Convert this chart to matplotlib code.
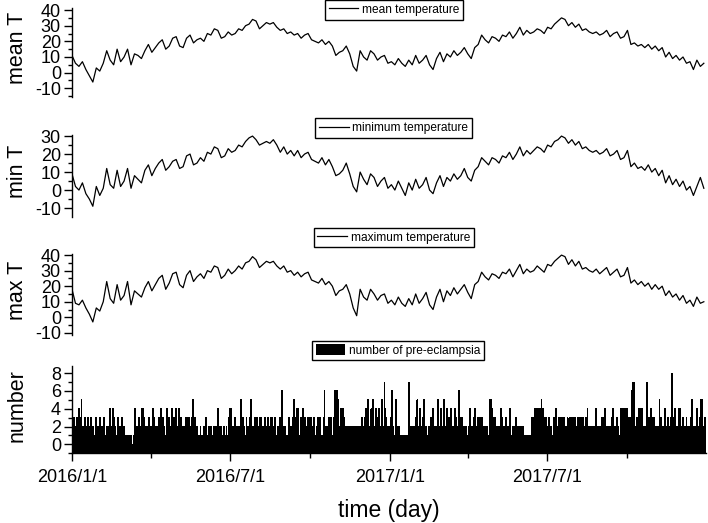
import numpy as np
import matplotlib
matplotlib.use("Agg")
import matplotlib.pyplot as plt
import matplotlib.dates as mdates
from matplotlib.ticker import MultipleLocator, FuncFormatter

plt.rcParams['font.family'] = ['Liberation Sans', 'DejaVu Sans']
plt.rcParams['axes.unicode_minus'] = False

# temperatures read every 4 days from 2016/1/1
step_days = 4
mean_t = [11, 6, 4, 7, 2, -2, -6, 3, 1, 6, 14, 8, 5, 15, 7, 10, 15, 5, 12, 11,
          9, 14, 18, 13, 16, 19, 21, 15, 17, 22, 23, 17, 16, 22, 24, 19, 21, 22, 20, 25,
          24, 28, 27, 22, 23, 26, 24, 25, 28, 27, 30, 31, 34, 33, 28, 30, 32, 31, 32, 29,
          27, 28, 25, 26, 24, 25, 22, 24, 25, 21, 20, 19, 21, 18, 20, 17, 11, 13, 14, 17,
          12, 4, 1, 14, 10, 8, 14, 12, 8, 10, 11, 6, 7, 5, 9, 6, 4, 8, 5, 11,
          6, 8, 11, 5, 2, 9, 13, 7, 12, 10, 14, 11, 13, 16, 12, 9, 16, 18, 24, 21,
          19, 23, 22, 20, 24, 23, 26, 22, 25, 29, 24, 27, 25, 26, 28, 27, 25, 29, 28, 31,
          33, 35, 34, 30, 32, 29, 31, 27, 28, 26, 25, 26, 24, 25, 27, 23, 25, 26, 22, 23,
          27, 18, 19, 17, 18, 16, 18, 15, 17, 14, 16, 10, 13, 9, 11, 8, 10, 6, 7, 2,
          8, 4, 6]
min_t = [9, 2, 0, 4, -2, -5, -9, 2, -3, 1, 12, 3, 1, 11, 2, 5, 12, 1, 8, 6,
         4, 11, 14, 8, 12, 15, 17, 11, 13, 16, 17, 12, 13, 19, 20, 14, 15, 18, 16, 21,
         20, 24, 23, 18, 19, 23, 21, 22, 25, 24, 27, 29, 30, 28, 25, 26, 27, 26, 28, 25,
         21, 24, 20, 22, 19, 22, 18, 20, 21, 17, 16, 15, 18, 14, 17, 13, 8, 9, 11, 15,
         9, 2, -1, 10, 6, 3, 9, 7, 2, 5, 7, 1, 3, 0, 5, 1, -3, 4, 0, 6,
         1, 3, 7, 0, -2, 4, 8, 2, 7, 5, 9, 6, 8, 12, 7, 5, 11, 13, 18, 16,
         14, 18, 17, 15, 19, 18, 21, 17, 20, 24, 19, 22, 20, 22, 24, 23, 21, 25, 24, 27,
         28, 30, 29, 26, 28, 25, 27, 23, 24, 22, 21, 22, 20, 21, 23, 19, 20, 22, 17, 18,
         22, 13, 15, 12, 13, 11, 14, 10, 12, 8, 11, 4, 8, 3, 6, 2, 5, 0, 2, -3,
         2, 7, 1]
max_t = [18, 9, 8, 11, 6, 2, -3, 6, 4, 10, 23, 12, 9, 21, 11, 14, 23, 8, 17, 15,
         13, 19, 23, 17, 21, 25, 27, 18, 22, 28, 29, 21, 19, 27, 30, 23, 26, 28, 25, 30,
         29, 33, 32, 25, 27, 31, 28, 30, 33, 31, 35, 36, 39, 37, 32, 34, 36, 35, 36, 33,
         31, 33, 29, 30, 27, 29, 26, 28, 29, 24, 23, 22, 25, 21, 23, 20, 14, 17, 18, 21,
         15, 6, 1, 18, 13, 11, 18, 15, 11, 14, 15, 9, 11, 8, 13, 9, 7, 12, 8, 15,
         9, 12, 16, 8, 5, 13, 18, 10, 17, 14, 19, 15, 18, 21, 16, 12, 21, 23, 29, 26,
         24, 28, 27, 25, 29, 28, 31, 26, 30, 34, 28, 31, 29, 30, 33, 31, 29, 34, 33, 36,
         38, 40, 39, 34, 37, 33, 36, 31, 32, 30, 29, 31, 28, 30, 32, 27, 29, 31, 26, 27,
         32, 22, 24, 21, 23, 20, 22, 18, 21, 18, 20, 14, 17, 13, 15, 11, 14, 9, 11, 7,
         13, 9, 10]

# daily number of pre-eclampsia cases, 2016/1/1 - 2017/12/31
count_rows = [
    "2130223142351203213120312102312130221301221042041320130221312",
    "1010010100104120321244312021302241320213204132014213024123140",
    "2401320213103321352031210121102131012120120212401221020121034",
    "4212031202205132013121351021323213031203102321330213102203162",
    "2120113021235314240131433312303302131023213010361221303201362",
    "6150244413202120212221202121231232415023415204132412520743120",
    "2316201520121111101110721020213150240231502102013140212052041",
    "2051241302402140312613230212012341203412232323121212104554132",
    "3120214130213120241022123120212121011011103134341434352431320",
    "2312013124213231323120312333303312313320321324121212022412120",
    "2313412102213421213210243424143231367772131434041220371324131",
    "312120513221402132138213402141421320231221351202142130552132",
]
counts = [int(c) for c in "".join(count_rows)]

start = np.datetime64('2016-01-01')
t_dates = start + np.arange(len(mean_t)) * step_days
c_dates = start + np.arange(len(counts))

fig = plt.figure(figsize=(7.08, 5.23), dpi=100)
W, H = 708, 523
left, right = 72, 706

def add_panel(top, bottom):
    return fig.add_axes([left / W, 1 - bottom / H, (right - left) / W, (bottom - top) / H])

ax1 = add_panel(8, 96.6)
ax2 = add_panel(135, 216.7)
ax3 = add_panel(254, 335)
ax4 = add_panel(366, 453.3)
axes = [ax1, ax2, ax3, ax4]

xmin = mdates.date2num(np.datetime64('2016-01-01'))
xmax = mdates.date2num(np.datetime64('2017-12-31T12:00'))

ax1.plot(t_dates, mean_t, color='black', lw=0.9, label='mean temperature')
ax2.plot(t_dates, min_t, color='black', lw=0.9, label='minimum temperature')
ax3.plot(t_dates, max_t, color='black', lw=0.9, label='maximum temperature')
bars = ax4.bar(c_dates, np.array(counts) + 1, bottom=-1, width=1.0, color='black',
               lw=0, antialiased=False, label='number of pre-eclampsia')
for b in bars:
    b.set_snap(False)

ax1.set_ylim(-15.3, 41.3)
ax2.set_ylim(-14.8, 30.6)
ax3.set_ylim(-11.4, 40.7)
ax4.set_ylim(-1, 8.8)

for ax in [ax1, ax2, ax3]:
    ax.yaxis.set_major_locator(MultipleLocator(10))
    ax.yaxis.set_minor_locator(MultipleLocator(5))
ax4.yaxis.set_major_locator(MultipleLocator(2))
ax4.yaxis.set_minor_locator(MultipleLocator(1))

ylabels = ['mean T', 'min T', 'max T', 'number']
for ax, lab in zip(axes, ylabels):
    ax.set_xlim(xmin, xmax)
    for s in ['top', 'right']:
        ax.spines[s].set_visible(False)
    ax.spines['left'].set_linewidth(1.0)
    ax.spines['bottom'].set_linewidth(1.0)
    ax.tick_params(axis='y', which='major', direction='out', length=6, width=1.0,
                   labelsize=13, pad=2)
    ax.tick_params(axis='y', which='minor', direction='out', length=3, width=1.0)
    ax.set_ylabel(lab, fontsize=15.5)
    ax.yaxis.set_label_coords(-0.07, 0.55)
    ax.patch.set_visible(False)

for ax in [ax1, ax2, ax3]:
    ax.spines['bottom'].set_visible(False)
    ax.tick_params(axis='x', which='both', bottom=False, labelbottom=False)

ax4.xaxis.set_major_locator(mdates.MonthLocator(bymonth=[1, 7]))
ax4.xaxis.set_minor_locator(mdates.MonthLocator(bymonth=[4, 10]))
ax4.xaxis.set_major_formatter(FuncFormatter(
    lambda v, p: "{}/{}/{}".format(mdates.num2date(v).year, mdates.num2date(v).month,
                                   mdates.num2date(v).day)))
ax4.tick_params(axis='x', which='major', direction='out', length=6, width=1.0,
                labelsize=13, pad=5)
ax4.tick_params(axis='x', which='minor', direction='out', length=3.5, width=1.0)
ax4.set_xlabel('time (day)', fontsize=16.5, labelpad=10)

# legends sit just above each panel
leg_centers = [(394, 9.7), (393.7, 128), (393.7, 237.5), (398, 350.5)]
for ax, (cx, cy) in zip(axes, leg_centers):
    leg = ax.legend(loc='center', bbox_to_anchor=(cx / W, 1 - cy / H),
                    bbox_transform=fig.transFigure, fontsize=8.6, frameon=True,
                    fancybox=False, borderpad=0.3, borderaxespad=0,
                    handlelength=2.5, handletextpad=0.3, handleheight=1.0)
    leg.get_frame().set_edgecolor('black')
    leg.get_frame().set_linewidth(1.0)
    leg.get_frame().set_alpha(1)

fig.savefig('out.png', dpi=100)
